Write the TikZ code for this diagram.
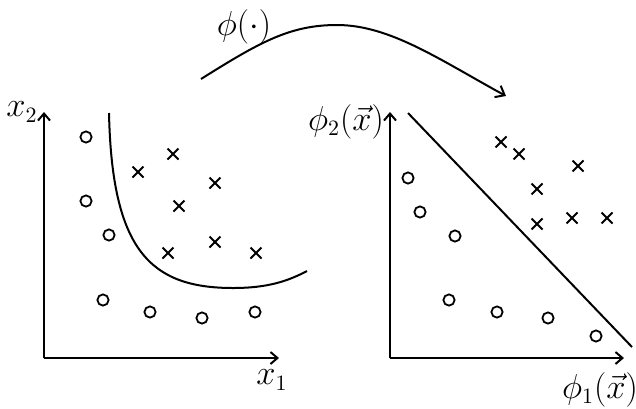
\documentclass[tikz,border=0pt]{standalone}
\usepackage{amsmath,amssymb}
\usepackage{fontspec}
\setmainfont{Liberation Serif}
\usepackage{tikz}
\usetikzlibrary{arrows.meta,positioning,shapes.misc}
\definecolor{Ink}{HTML}{000000}
\tikzset{
  circpt/.style={circle,draw=Ink,line width=0.9pt,minimum size=5.6pt,inner sep=0pt},
  crosspt/.style={cross out,draw=Ink,line width=0.9pt,minimum size=4.6pt,inner sep=0pt},
  axis/.style={-{Straight Barb[length=3.5pt,width=6pt]},line width=1pt,draw=Ink},
  boundary/.style={line width=1pt,draw=Ink},
  maparrow/.style={-{Straight Barb[length=4pt,width=6.5pt]},line width=1pt,draw=Ink},
  lbl/.style={font=\fontsize{16}{18}\selectfont,text=Ink,inner sep=0pt}
}
\begin{document}
\begin{tikzpicture}[x=0.5pt,y=-0.5pt]
  \useasboundingbox (0,0) rectangle (636,408);

  % input space
  \coordinate (oL) at (44,358);
  \coordinate (xL) at (279,358);
  \coordinate (yL) at (44,112);
  \draw[axis] (oL)--(xL); \draw[axis] (oL)--(yL);
  \node[lbl] (xone) at (272,380) {$x_1$};
  \node[lbl] (xtwo) at (22,112) {$x_2$};
  \foreach \p [count=\i] in {(86,137),(86,201),(109,235),(103,300),(150,312),(202,318),(255,312)}
    \node[circpt] (cL\i) at \p {};
  \foreach \p [count=\i] in {(138,172),(173,154),(215,183),(179,206),(215,242),(168,253),(256,253)}
    \node[crosspt] (xL\i) at \p {};
  \draw[boundary] (109,113) .. controls (112,250) and (150,288) .. (233,288)
    .. controls (268,288) and (288,281) .. (307,271);

  % feature space
  \coordinate (oR) at (390,358);
  \coordinate (xR) at (624,358);
  \coordinate (yR) at (390,112);
  \draw[axis] (oR)--(xR); \draw[axis] (oR)--(yR);
  \node[lbl] (phione) at (600,390) {$\phi_1(\vec{x})$};
  \node[lbl] (phitwo) at (346,122) {$\phi_2(\vec{x})$};
  \foreach \p [count=\i] in {(408,178),(420,212),(455,236),(449,300),(497,312),(548,318),(596,336)}
    \node[circpt] (cR\i) at \p {};
  \foreach \p [count=\i] in {(501,142),(519,154),(578,166),(537,189),(537,224),(572,218),(607,218)}
    \node[crosspt] (xR\i) at \p {};
  \coordinate (bA) at (408,113);
  \coordinate (bB) at (632,347);
  \draw[boundary] (bA)--(bB);

  % the map
  \coordinate (mS) at (201,79);
  \coordinate (mE) at (506,96);
  \draw[maparrow] (mS) .. controls (260,42) and (290,25) .. (337,25)
    .. controls (390,25) and (440,60) .. (mE);
  \node[lbl] (phimap) at (244,27) {$\phi(\cdot)$};
\end{tikzpicture}
\end{document}
